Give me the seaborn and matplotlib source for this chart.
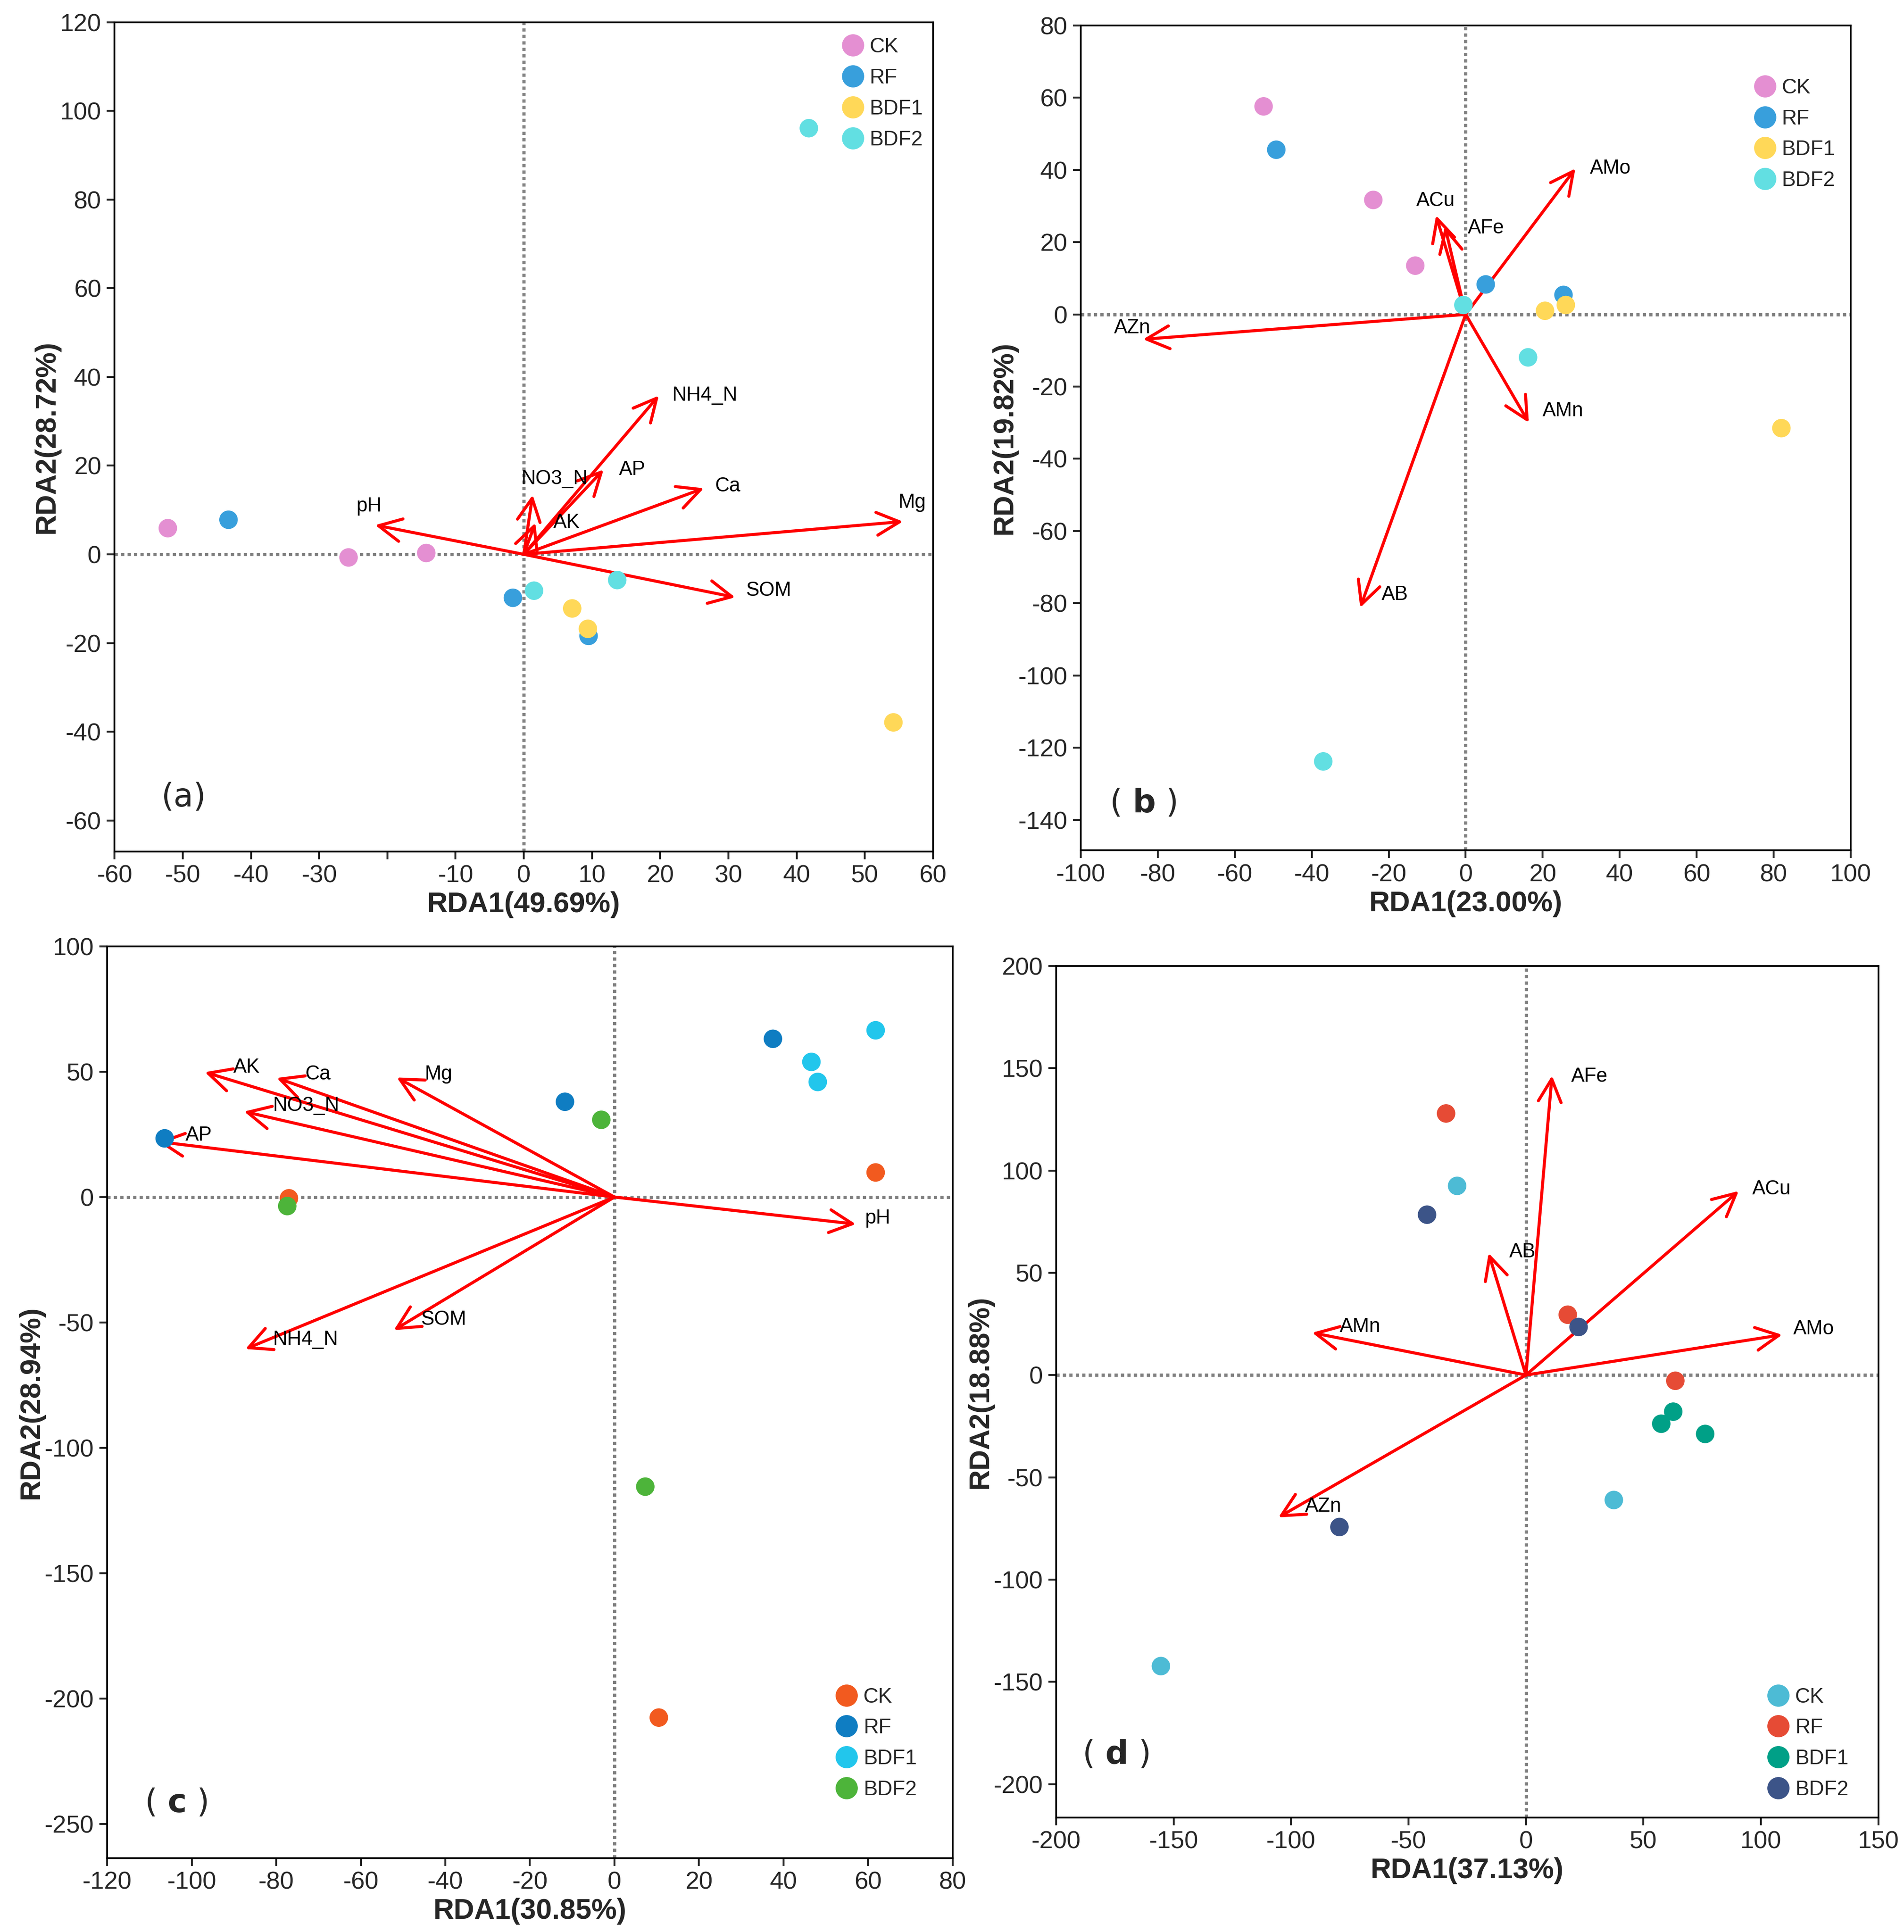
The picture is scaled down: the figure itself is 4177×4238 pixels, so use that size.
import numpy as np
import pandas as pd
import matplotlib
matplotlib.use("Agg")
import matplotlib.pyplot as plt
import seaborn as sns

# ---- data ----
groups = ["CK", "RF", "BDF1", "BDF2"]
site_group = ["CK"] * 3 + ["RF"] * 3 + ["BDF1"] * 3 + ["BDF2"] * 3

# (a)
a_rda1 = [-52.2, -25.7, -14.3, -43.3, -1.6, 9.5, 7.1, 9.4, 54.2, 41.8, 1.5, 13.7]
a_rda2 = [5.9, -0.7, 0.3, 7.8, -9.8, -18.4, -12.2, -16.8, -37.9, 96.1, -8.2, -5.8]
a_env = ["NH4_N", "AP", "Ca", "Mg", "SOM", "pH", "NO3_N", "AK"]
a_env_x = [19.8, 11.7, 26.4, 55.6, 31.0, -21.8, 1.3, 1.7]
a_env_y = [35.8, 19.1, 14.9, 7.4, -9.7, 6.6, 13.4, 7.1]

# (b)
b_rda1 = [-52.5, -24.0, -13.1, -49.2, 5.2, 25.4, 20.6, 26.0, 82.0, -0.6, 16.2, -37.0]
b_rda2 = [57.6, 31.7, 13.5, 45.6, 8.3, 5.4, 1.0, 2.6, -31.5, 2.6, -11.9, -123.8]
b_env = ["AMo", "ACu", "AFe", "AZn", "AMn", "AB"]
b_env_x = [28.5, -7.7, -5.4, -83.8, 16.4, -27.4]
b_env_y = [40.4, 27.4, 24.4, -6.9, -30.0, -81.2]

# (c)
c_rda1 = [-77.0, 61.8, 10.5, -106.4, -11.7, 37.5, 46.6, 48.1, 61.8, -77.4, -3.1, 7.3]
c_rda2 = [-0.5, 9.8, -207.6, 23.4, 38.0, 63.1, 53.9, 45.9, 66.5, -3.6, 30.8, -115.5]
c_env = ["AK", "Ca", "Mg", "NO3_N", "AP", "pH", "SOM", "NH4_N"]
c_env_x = [-96.9, -79.9, -51.5, -87.6, -108.0, 57.1, -52.2, -87.3]
c_env_y = [49.8, 47.5, 47.7, 34.1, 22.1, -10.8, -53.1, -60.6]

# (d)
d_rda1 = [-29.3, 37.4, -155.4, -34.0, 17.8, 63.6, 57.6, 62.7, 76.3, -42.1, 22.4, -79.4]
d_rda2 = [92.5, -61.1, -142.3, 127.9, 29.5, -2.8, -23.8, -17.9, -28.8, 78.4, 23.5, -74.3]
d_env = ["AFe", "ACu", "AB", "AMn", "AMo", "AZn"]
d_env_x = [11.1, 90.6, -15.9, -91.0, 109.1, -105.4]
d_env_y = [146.4, 90.0, 59.6, 20.7, 19.7, -69.6]

# ---- styling / layout ----
pal_ab = ["#e48fd2", "#389fdc", "#ffd858", "#62dfe2"]
pal_c = ["#f25a1f", "#0f7dc2", "#22c6ec", "#4db43a"]
pal_d = ["#4dbbd5", "#e64b35", "#00a087", "#3c5488"]

# label offsets (points) from arrow tips
a_off = {"NH4_N": (7, 0), "AP": (8, 0), "Ca": (6, 1), "Mg": (-2.5, 10), "SOM": (5.5, 3.5),
         "pH": (-10, 10), "NO3_N": (-6, 8.4), "AK": (9.5, 0)}
b_off = {"AMo": (7.5, 0), "ACu": (-10.4, 7.8), "AFe": (12, -1), "AZn": (-15.4, 6),
         "AMn": (7.3, 6.3), "AB": (11.2, 6.8)}
c_off = {"AK": (15, 2.4), "Ca": (15, 2), "Mg": (14.7, 1.7), "NO3_N": (15, 3), "AP": (14.5, 3.3),
         "pH": (4.7, 3), "SOM": (14.2, 5.7), "NH4_N": (14.5, 5)}
d_off = {"AFe": (10, -0.6), "ACu": (7, 1), "AB": (10.8, 0.6), "AMn": (14.4, 3),
         "AMo": (5.7, 3), "AZn": (14, 5.7)}

sns.set_style("white")
plt.rcParams["font.family"] = ["Liberation Sans", "DejaVu Sans"]
plt.rcParams["mathtext.fontset"] = "dejavusans"
plt.rcParams["axes.unicode_minus"] = False

W, H = 4177, 4238
fig = plt.figure(figsize=(W / 300, H / 300), dpi=300)


def draw_panel(rect, rda1, rda2, env, env_x, env_y, offs, palette, xlim, ylim,
               xticks, yticks, xlab, ylab, tag, tag_xy, leg_xy, hidden_xtick=None):
    ax = fig.add_axes(rect)
    df = pd.DataFrame({"RDA1": rda1, "RDA2": rda2, "group": site_group})
    ax.axhline(0, color="#808080", lw=1.7, ls=(0, (1, 1)), zorder=1)
    ax.axvline(0, color="#808080", lw=1.7, ls=(0, (1, 1)), zorder=1)
    for name, ex, ey in zip(env, env_x, env_y):
        ax.annotate("", xy=(ex, ey), xytext=(0, 0),
                    arrowprops=dict(arrowstyle="->,head_length=0.6,head_width=0.3",
                                    color="#ff0000", lw=1.6, mutation_scale=20,
                                    shrinkA=0, shrinkB=0), zorder=3)
        dx, dy = offs[name]
        ax.annotate(name, xy=(ex, ey), xytext=(dx, dy), textcoords="offset points",
                    ha="left", va="center", fontsize=10.5, color="black", zorder=4)
    sns.scatterplot(data=df, x="RDA1", y="RDA2", hue="group", hue_order=groups,
                    palette=palette, s=95, linewidth=0, ax=ax, zorder=5)
    ax.set_xlim(xlim)
    ax.set_ylim(ylim)
    ax.set_xticks(xticks)
    labels = [str(v) for v in xticks]
    if hidden_xtick is not None:
        labels[list(xticks).index(hidden_xtick)] = ""
    ax.set_xticklabels(labels)
    ax.set_yticks(yticks)
    ax.tick_params(axis="both", which="major", direction="out", length=4, width=1,
                   labelsize=13, pad=3, bottom=True, left=True, top=False, right=False)
    for sp in ax.spines.values():
        sp.set_color("black")
        sp.set_linewidth(0.9)
    ax.set_xlabel(xlab, fontsize=15, fontweight="bold", labelpad=2)
    ax.set_ylabel(ylab, fontsize=15, fontweight="bold", labelpad=0)
    handles, labs = ax.get_legend_handles_labels()
    ax.legend(handles, labs, loc="upper left", bbox_to_anchor=leg_xy,
              bbox_transform=fig.transFigure, frameon=False, fontsize=11,
              markerscale=1.2, handlelength=1.0, handletextpad=0.3,
              labelspacing=0.52, borderpad=0, borderaxespad=0)
    fig.text(tag_xy[0], tag_xy[1], tag, fontsize=17, family="DejaVu Sans",
             ha="center", va="center")
    return ax


draw_panel([0.0602, 0.5593, 0.4298, 0.4292], a_rda1, a_rda2, a_env, a_env_x, a_env_y,
           a_off, pal_ab, (-60, 60), (-67, 120), np.arange(-60, 61, 10),
           np.arange(-60, 121, 20), "RDA1(49.69%)", "RDA2(28.72%)", "(a)",
           (403 / W, 1 - 1749 / H), (0.4424, 0.9808), hidden_xtick=-20)

draw_panel([0.5676, 0.5599, 0.4044, 0.4269], b_rda1, b_rda2, b_env, b_env_x, b_env_y,
           b_off, pal_ab, (-100, 100), (-148.4, 80), np.arange(-100, 101, 20),
           np.arange(-140, 81, 20), "RDA1(23.00%)", "RDA2(19.82%)", r"( $\mathbf{b}$ )",
           (2507 / W, 1 - 1762 / H), (0.9214, 0.9597))

draw_panel([0.0563, 0.0383, 0.4440, 0.4719], c_rda1, c_rda2, c_env, c_env_x, c_env_y,
           c_off, pal_c, (-120, 80), (-263.6, 100), np.arange(-120, 81, 20),
           np.arange(-250, 101, 50), "RDA1(30.85%)", "RDA2(28.94%)", r"( $\mathbf{c}$ )",
           (386 / W, 1 - 3955 / H), (0.4392, 0.1268))

draw_panel([0.5547, 0.0593, 0.4318, 0.4407], d_rda1, d_rda2, d_env, d_env_x, d_env_y,
           d_off, pal_d, (-200, 150), (-216.3, 200), np.arange(-200, 151, 50),
           np.arange(-200, 201, 50), "RDA1(37.13%)", "RDA2(18.88%)", r"( $\mathbf{d}$ )",
           (2447 / W, 1 - 3849 / H), (0.9285, 0.1268))

fig.savefig("out.png", dpi=300)
